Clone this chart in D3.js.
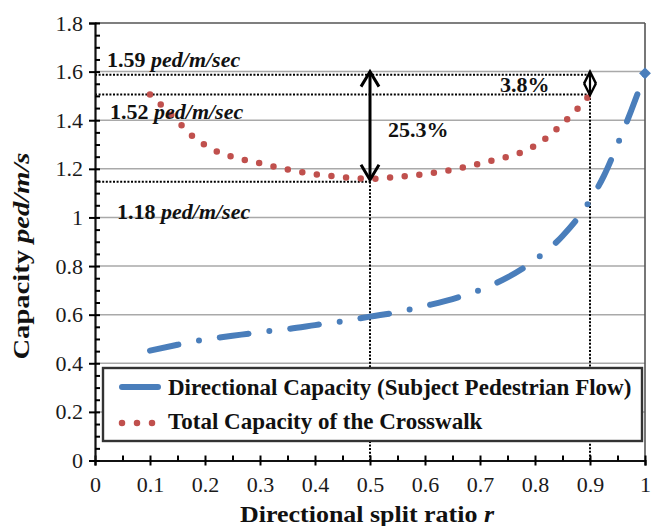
<!DOCTYPE html>
<html><head><meta charset="utf-8">
<script src="https://cdn.jsdelivr.net/npm/d3@7/dist/d3.min.js"></script>
<style>body{margin:0;background:#fff}</style>
</head><body>
<svg id="chart" width="651" height="526"></svg>
<script>
// ---- data ----
const rTotal = [0.1,0.125,0.15,0.175,0.2,0.225,0.25,0.3,0.35,0.4,0.45,0.5,0.55,0.6,0.65,0.7,0.75,0.775,0.8,0.825,0.85,0.875,0.9];
const totalCapacity = [1.506,1.453,1.397,1.339,1.298,1.268,1.249,1.223,1.197,1.178,1.166,1.159,1.167,1.179,1.196,1.222,1.250,1.268,1.295,1.335,1.386,1.442,1.505];
const rDir = [0.1,0.15,0.2,0.25,0.3,0.35,0.4,0.45,0.5,0.55,0.6,0.65,0.7,0.75,0.8,0.85,0.9,0.925,0.95,0.975,1.0];
const directionalCapacity = [0.452,0.476,0.498,0.513,0.528,0.541,0.557,0.573,0.592,0.610,0.636,0.664,0.702,0.753,0.825,0.924,1.07,1.17,1.30,1.44,1.593];
const xTickValues = [0,0.1,0.2,0.3,0.4,0.5,0.6,0.7,0.8,0.9,1];
const yTickValues = [0,0.2,0.4,0.6,0.8,1,1.2,1.4,1.6,1.8];
const seriesNames = ["Directional Capacity (Subject Pedestrian Flow)", "Total Capacity of the Crosswalk"];
const refValues = [1.587, 1.506, 1.147];   // horizontal reference levels
const refEndR = [0.9, 0.9, 0.5];            // r where each reference line stops
const refLabels = ["1.59", "1.52", "1.18"];
const refUnit = "ped/m/sec";
const vRefR = [0.5, 0.9];                   // vertical reference lines
const vRefTop = [1.147, 1.506];
const arrowR = [0.5, 0.9];
const arrowFrom = [1.155, 1.503];
const arrowTo = [1.60, 1.60];
const pctLabels = ["25.3%", "3.8%"];

// ---- layout ----
const svg = d3.select("#chart");
const FONT = "'Liberation Serif','Times New Roman',serif";
const x = d3.scaleLinear().domain([0,1]).range([95,645]);
const y = d3.scaleLinear().domain([0,1.8]).range([460.5,23]);
const fmt = d => String(+d.toFixed(1));
const BLUE = "#4a7ebb", RED = "#c0504d";

// gridlines
svg.append("g").selectAll("line").data(yTickValues.filter(v => v > 0 && v < 1.8)).join("line")
  .attr("x1", x(0)).attr("x2", x(1)).attr("y1", d => y(d)).attr("y2", d => y(d))
  .attr("stroke", "#a9a9a9").attr("stroke-width", 1.5);
// top & right border
svg.append("line").attr("x1", x(0)).attr("x2", x(1)).attr("y1", y(1.8)).attr("y2", y(1.8))
  .attr("stroke", "#555").attr("stroke-width", 1.6);
svg.append("line").attr("x1", x(1)).attr("x2", x(1)).attr("y1", y(1.8)).attr("y2", y(0))
  .attr("stroke", "#555").attr("stroke-width", 1.6);

// reference dotted lines
const dotted = g => g.attr("stroke", "#000").attr("stroke-width", 2).attr("stroke-dasharray", "2 1.6").attr("fill", "none");
refValues.forEach((v, i) => {
  svg.append("line").attr("x1", x(0)).attr("x2", x(refEndR[i])).attr("y1", y(v)).attr("y2", y(v)).call(dotted);
});
vRefR.forEach((r, i) => {
  svg.append("line").attr("x1", x(r)).attr("x2", x(r)).attr("y1", y(vRefTop[i])).attr("y2", y(0)).call(dotted);
});

// axes
const minorX = d3.range(0.05, 1, 0.1);
const minorY = d3.range(0.05, 1.8, 0.05).filter(v => Math.abs(v*5 - Math.round(v*5)) > 1e-6);
const xAxis = svg.append("g").attr("transform", `translate(0,${y(0)})`)
  .call(d3.axisBottom(x).tickValues(xTickValues).tickSize(5).tickFormat(fmt));
xAxis.selectAll(".tick line").attr("y1", -5).attr("stroke-width", 2);
xAxis.selectAll("text").attr("y", 31).attr("dy", 0).attr("font-size", 22).attr("font-family", FONT).attr("fill", "#1a1a1a");
svg.append("g").attr("transform", `translate(0,${y(0)})`)
  .call(d3.axisBottom(x).tickValues(minorX).tickSize(-5).tickFormat(""))
  .call(g => g.select(".domain").remove())
  .selectAll("line").attr("stroke-width", 2);

const yAxis = svg.append("g").attr("transform", `translate(${x(0)},0)`)
  .call(d3.axisLeft(y).tickValues(yTickValues).tickSize(6).tickFormat(fmt));
yAxis.selectAll(".tick line").attr("x1", 5).attr("stroke-width", 2);
yAxis.selectAll("text").attr("x", -12).attr("font-size", 22).attr("font-family", FONT).attr("fill", "#1a1a1a");
svg.append("g").attr("transform", `translate(${x(0)},0)`)
  .call(d3.axisLeft(y).tickValues(minorY).tickSize(-5).tickFormat(""))
  .call(g => g.select(".domain").remove())
  .selectAll("line").attr("stroke-width", 2);
svg.selectAll(".domain").attr("stroke-width", 2.2).attr("stroke", "#111");

// series
const totalData = rTotal.map((r, i) => [r, totalCapacity[i]]);
const dirData = rDir.map((r, i) => [r, directionalCapacity[i]]);
const line = d3.line().x(d => x(d[0])).y(d => y(d[1])).curve(d3.curveMonotoneX);
svg.append("path").attr("d", line(dirData)).attr("fill", "none").attr("stroke", BLUE)
  .attr("stroke-width", 6).attr("stroke-linecap", "round").attr("stroke-dasharray", "29 21 0 21");
const last = dirData[dirData.length - 1];
svg.append("path").attr("d", d3.symbol(d3.symbolSquare, 70)())
  .attr("transform", `translate(${x(last[0])},${y(last[1])}) rotate(45)`).attr("fill", BLUE);
svg.append("path").attr("d", line(totalData)).attr("fill", "none").attr("stroke", RED)
  .attr("stroke-width", 6.5).attr("stroke-linecap", "round").attr("stroke-dasharray", "0 14.7");

// arrows
function chevron(cx, tipY, dir, hw, hh, sw) {
  svg.append("path").attr("d", `M${cx-hw},${tipY+dir*hh} L${cx},${tipY} L${cx+hw},${tipY+dir*hh}`)
    .attr("fill", "none").attr("stroke", "#000").attr("stroke-width", sw).attr("stroke-linejoin", "miter");
}
arrowR.forEach((r, i) => {
  const cx = x(r), y1 = y(arrowTo[i]), y2 = y(arrowFrom[i]);
  const big = i === 0;
  if (!big) {
    const mid = (y1 + y2) / 2;
    svg.append("path").attr("d", `M${cx},${y1} L${cx+6},${mid} L${cx},${y2} L${cx-6},${mid} Z`).attr("fill", "#fff");
  }
  svg.append("line").attr("x1", cx).attr("x2", cx).attr("y1", y1 + 1).attr("y2", y2 - 1)
    .attr("stroke", "#000").attr("stroke-width", big ? 3 : 2.2);
  chevron(cx, y1, 1, big ? 9 : 6, big ? 15 : 12, big ? 3 : 2.4);
  chevron(cx, y2, -1, big ? 9 : 6, big ? 15 : 12, big ? 3 : 2.4);
});

// annotation text
const refPos = [[107, y(refValues[0]) - 7.6], [110, y(refValues[1]) + 25], [117, y(refValues[2]) + 37]];
refLabels.forEach((lab, i) => {
  const t = svg.append("text").attr("x", refPos[i][0]).attr("y", refPos[i][1])
    .attr("font-family", FONT).attr("font-size", 22).attr("font-weight", "bold").attr("fill", "#111");
  t.append("tspan").text(lab + " ");
  t.append("tspan").attr("font-style", "italic").text(refUnit);
});
svg.append("text").attr("x", 388).attr("y", 137).text(pctLabels[0])
  .attr("font-family", FONT).attr("font-size", 22).attr("font-weight", "bold").attr("fill", "#111");
svg.append("text").attr("x", 500).attr("y", 92).text(pctLabels[1])
  .attr("font-family", FONT).attr("font-size", 22).attr("font-weight", "bold").attr("fill", "#111");

// legend
const lg = svg.append("g");
lg.append("rect").attr("x", 103).attr("y", 368).attr("width", 539).attr("height", 73)
  .attr("fill", "#fff").attr("stroke", "#333").attr("stroke-width", 2.4);
lg.append("line").attr("x1", 122).attr("x2", 158).attr("y1", 387).attr("y2", 387)
  .attr("stroke", BLUE).attr("stroke-width", 6).attr("stroke-linecap", "round");
lg.append("line").attr("x1", 122).attr("x2", 152.5).attr("y1", 423).attr("y2", 423)
  .attr("stroke", RED).attr("stroke-width", 6.5).attr("stroke-linecap", "round").attr("stroke-dasharray", "0 15");
seriesNames.forEach((n, i) => {
  lg.append("text").attr("x", 168).attr("y", 395 + i * 33.5).text(n)
    .attr("font-family", FONT).attr("font-size", 23).attr("font-weight", "bold").attr("fill", "#111");
});

// axis titles
const xt = svg.append("text").attr("x", 367).attr("y", 521.5).attr("text-anchor", "middle")
  .attr("font-family", FONT).attr("font-size", 24).attr("font-weight", "bold").attr("fill", "#111")
  .attr("textLength", 254).attr("lengthAdjust", "spacingAndGlyphs");
xt.append("tspan").text("Directional split ratio ");
xt.append("tspan").attr("font-style", "italic").text("r");
const yt = svg.append("text").attr("transform", "translate(29,256) rotate(-90)").attr("text-anchor", "middle")
  .attr("font-family", FONT).attr("font-size", 24).attr("font-weight", "bold").attr("fill", "#111")
  .attr("textLength", 207).attr("lengthAdjust", "spacingAndGlyphs");
yt.append("tspan").text("Capacity ");
yt.append("tspan").attr("font-style", "italic").text("ped/m/s");
</script>
</body></html>
